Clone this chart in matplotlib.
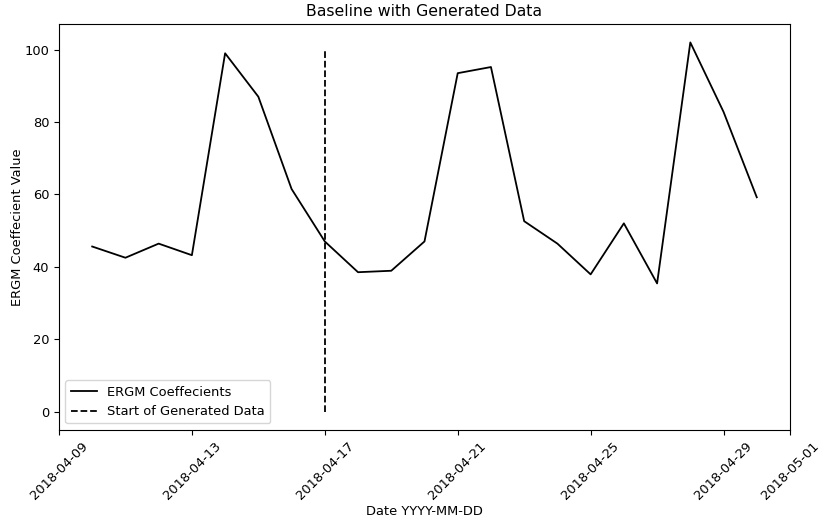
import matplotlib
matplotlib.use("Agg")
import matplotlib.pyplot as plt
import matplotlib.dates as mdates
import numpy as np
import pandas as pd

# daily ERGM coefficients
dates = pd.date_range("2018-04-10", "2018-04-30", freq="D")
values = [45.6, 42.5, 46.4, 43.2, 99.0, 87.0, 61.5, 47.0, 38.5, 38.9, 47.0,
          93.5, 95.2, 52.6, 46.4, 37.9, 52.0, 35.4, 102.0, 82.8, 59.2]
gen_start = pd.Timestamp("2018-04-17")
gen_range = [0, 100]

plt.rcParams["font.size"] = 9.4

fig, ax = plt.subplots(figsize=(8.19, 5.21), dpi=100)
fig.subplots_adjust(left=0.072, right=0.9646, top=0.954, bottom=0.1747)

ax.plot(dates, values, color="black", linewidth=1.3, label="ERGM Coeffecients")
ax.plot([gen_start, gen_start], gen_range, "k--", linewidth=1.3,
        label="Start of Generated Data")

ax.xaxis.set_major_locator(mdates.DayLocator(bymonthday=range(1, 32, 4)))
ax.xaxis.set_major_formatter(mdates.DateFormatter("%Y-%m-%d"))
plt.setp(ax.get_xticklabels(), rotation=45)

ax.set_title("Baseline with Generated Data", fontsize=11.3)
ax.set_xlabel("Date YYYY-MM-DD", labelpad=2)
ax.set_ylabel("ERGM Coeffecient Value", labelpad=0)
ax.legend(loc="lower left")

fig.savefig("out.png", dpi=100)
